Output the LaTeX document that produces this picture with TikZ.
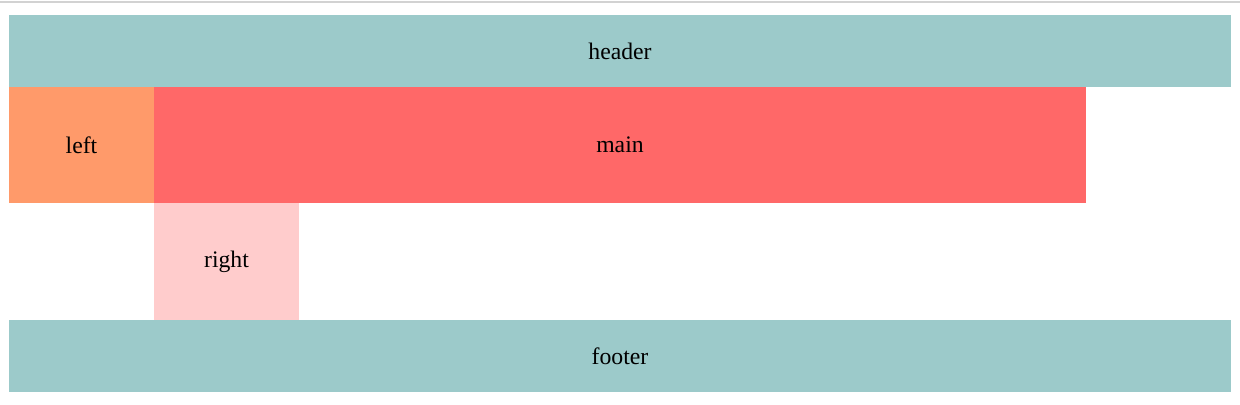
\documentclass[tikz,border=0pt]{standalone}
\usepackage{fontspec}
\setmainfont{Liberation Serif}
\usepackage{tikz}
\usetikzlibrary{positioning,calc}
\usepackage{xcolor}
\definecolor{tealbox}{HTML}{9CCACA}
\definecolor{leftbox}{HTML}{FF9A6A}
\definecolor{mainbox}{HTML}{FF6868}
\definecolor{rightbox}{HTML}{FFCCCC}

\tikzset{
    area/.style={inner sep=0pt, outer sep=0pt, font=\fontsize{13.5}{15}\selectfont}
}

\begin{document}
\begin{tikzpicture}
            \useasboundingbox (0,0) rectangle (24.8,8.08);
            % Top rule
            \coordinate (ruleL) at (0,8.04);
            \coordinate (ruleR) at (24.8,8.04);
            \draw[gray!35, line width=0.6pt] (ruleL) -- (ruleR);

            % Header
            \node[area, fill=tealbox, minimum width=24.44cm, minimum height=1.44cm] (header) at (12.4,7.06) {header};

            % Left and main
            \node[area, fill=leftbox, minimum width=2.9cm, minimum height=2.32cm] (left) at (1.63,5.18) {left};
            \node[area, fill=mainbox, minimum width=18.64cm, minimum height=2.32cm] (main) at (12.4,5.18) {main};

            % Right
            \node[area, fill=rightbox, minimum width=2.9cm, minimum height=2.34cm] (right) at (4.53,2.85) {right};

            % Footer
            \node[area, fill=tealbox, minimum width=24.44cm, minimum height=1.44cm] (footer) at (12.4,0.96) {footer};
        \end{tikzpicture}
\end{document}
